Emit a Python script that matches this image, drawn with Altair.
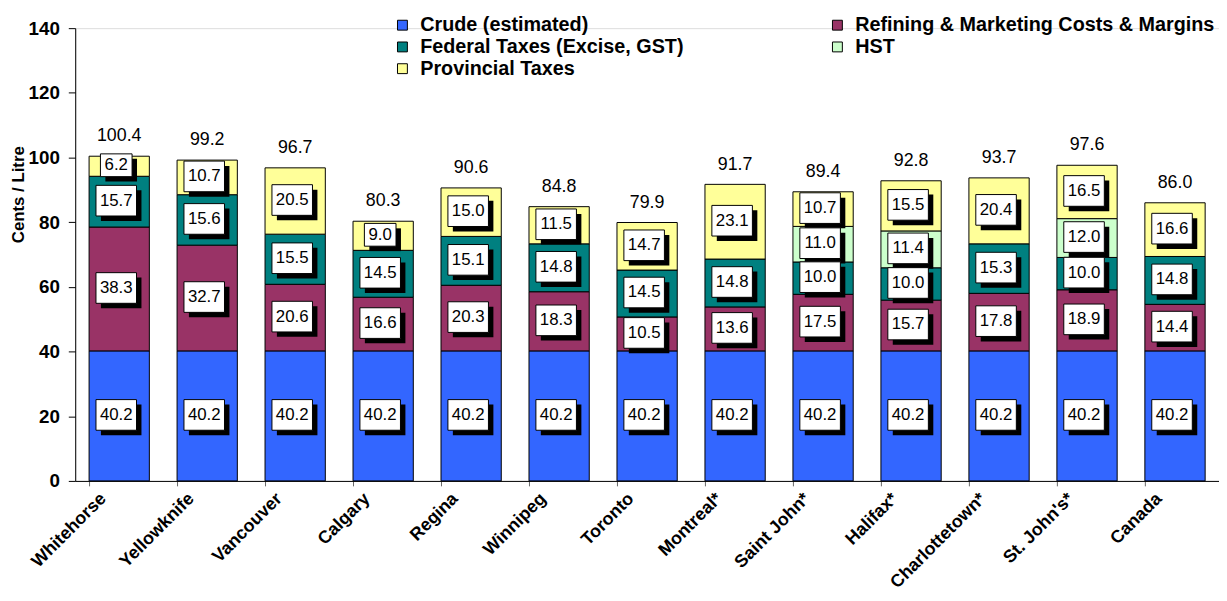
import altair as alt
import pandas as pd

cities = ["Whitehorse", "Yellowknife", "Vancouver", "Calgary", "Regina", "Winnipeg",
          "Toronto", "Montreal*", "Saint John*", "Halifax*", "Charlottetown*",
          "St. John's*", "Canada"]
crude = [40.2] * 13
refining = [38.3, 32.7, 20.6, 16.6, 20.3, 18.3, 10.5, 13.6, 17.5, 15.7, 17.8, 18.9, 14.4]
federal = [15.7, 15.6, 15.5, 14.5, 15.1, 14.8, 14.5, 14.8, 10.0, 10.0, 15.3, 10.0, 14.8]
hst = [0, 0, 0, 0, 0, 0, 0, 0, 11.0, 11.4, 0, 12.0, 0]
provincial = [6.2, 10.7, 20.5, 9.0, 15.0, 11.5, 14.7, 23.1, 10.7, 15.5, 20.4, 16.5, 16.6]
totals = [100.4, 99.2, 96.7, 80.3, 90.6, 84.8, 79.9, 91.7, 89.4, 92.8, 93.7, 97.6, 86.0]

series = ["Crude (estimated)", "Refining & Marketing Costs & Margins",
          "Federal Taxes (Excise, GST)", "HST", "Provincial Taxes"]
colors = ["#3366FF", "#993366", "#008080", "#CCFFCC", "#FFFF99"]
values = [crude, refining, federal, hst, provincial]

# legend fills column by column: order the domain so rows read like the original
legend_order = [0, 2, 4, 1, 3]
leg_domain = [series[k] for k in legend_order]
leg_range = [colors[k] for k in legend_order]

rows = []
for i, c in enumerate(cities):
    base = 0.0
    for k, s in enumerate(series):
        v = values[k][i]
        if v > 0:
            rows.append({"city": c, "series": s, "order": k, "value": v,
                         "y0": base, "y1": base + v, "mid": base + v / 2})
        base += v
df = pd.DataFrame(rows)
tot = pd.DataFrame({"city": cities, "total": totals})

FONT = "Liberation Sans"
xenc = alt.X("city:N", sort=cities, title=None,
             scale=alt.Scale(paddingInner=0.315, paddingOuter=0.1575),
             axis=alt.Axis(labelAngle=-45, labelFont=FONT, labelFontSize=18,
                           labelFontWeight="bold", labelColor="black",
                           labelAlign="right", labelBaseline="middle",
                           labelOffset=-16, labelPadding=10,
                           bandPosition=0, tickColor="#666", tickSize=5,
                           domainColor="black"))
yscale = alt.Scale(domain=[0, 140], nice=False)

bars = alt.Chart(df).mark_bar(stroke="black", strokeWidth=1).encode(
    x=xenc,
    y=alt.Y("y0:Q", scale=yscale, title="Cents / Litre",
            axis=alt.Axis(values=list(range(0, 141, 20)), labelFont=FONT,
                          labelFontSize=19, labelFontWeight="bold",
                          labelColor="black", tickColor="black", tickSize=7,
                          labelPadding=9,
                          domainColor="black", grid=False,
                          titleFont=FONT, titleFontSize=17, titleFontWeight="bold",
                          titleColor="black", titleX=-57, titleY=168,
                          titleBaseline="middle")),
    y2="y1:Q",
    color=alt.Color("series:N",
                    scale=alt.Scale(domain=leg_domain, range=leg_range),
                    legend=alt.Legend(title=None, orient="none", legendX=321,
                                      legendY=-13, columns=2, columnPadding=145,
                                      rowPadding=2, symbolType="square",
                                      symbolSize=100, symbolStrokeColor="black",
                                      symbolStrokeWidth=1, labelFont=FONT,
                                      labelFontSize=20, labelFontWeight="bold",
                                      labelColor="black", labelLimit=500,
                                      labelOffset=8)),
    order=alt.Order("order:Q"),
)

long_shape = "M-1,-0.756L1,-0.756L1,0.756L-1,0.756Z"
short_shape = "M-1,-0.72L1,-0.72L1,0.72L-1,0.72Z"
pos = dict(x=alt.X("city:N", sort=cities), y=alt.Y("mid:Q", scale=yscale))


def boxes(flt, shape, size):
    base = alt.Chart(df).transform_filter(flt)
    sh = base.mark_point(shape=shape, size=size, filled=True, color="black",
                         opacity=1, xOffset=2, yOffset=4).encode(**pos)
    bx = base.mark_point(shape=shape, size=size, filled=True, fill="white",
                         stroke="black", strokeWidth=1, opacity=1,
                         xOffset=-3, yOffset=-1).encode(**pos)
    return [sh, bx]


layers = [bars] + boxes("datum.value >= 10", long_shape, 1681) + \
    boxes("datum.value < 10", short_shape, 1024)

labels = alt.Chart(df).mark_text(font=FONT, fontSize=17, color="black",
                                 xOffset=-3, yOffset=-1).encode(
    **pos, text=alt.Text("value:Q", format=".1f"))
total_text = alt.Chart(tot).mark_text(font=FONT, fontSize=18, color="black",
                                      dy=-20).encode(
    x=alt.X("city:N", sort=cities), y=alt.Y("total:Q", scale=yscale),
    text=alt.Text("total:Q", format=".1f"))

chart = alt.layer(*layers, labels, total_text).properties(
    width=1157, height=458,
    autosize=alt.AutoSizeParams(type="none"),
    padding={"left": 68, "top": 17, "right": 0, "bottom": 110},
).configure_view(stroke=None).configure(background="white")

chart.save("out.html", embed_options={"renderer": "svg", "actions": False})
